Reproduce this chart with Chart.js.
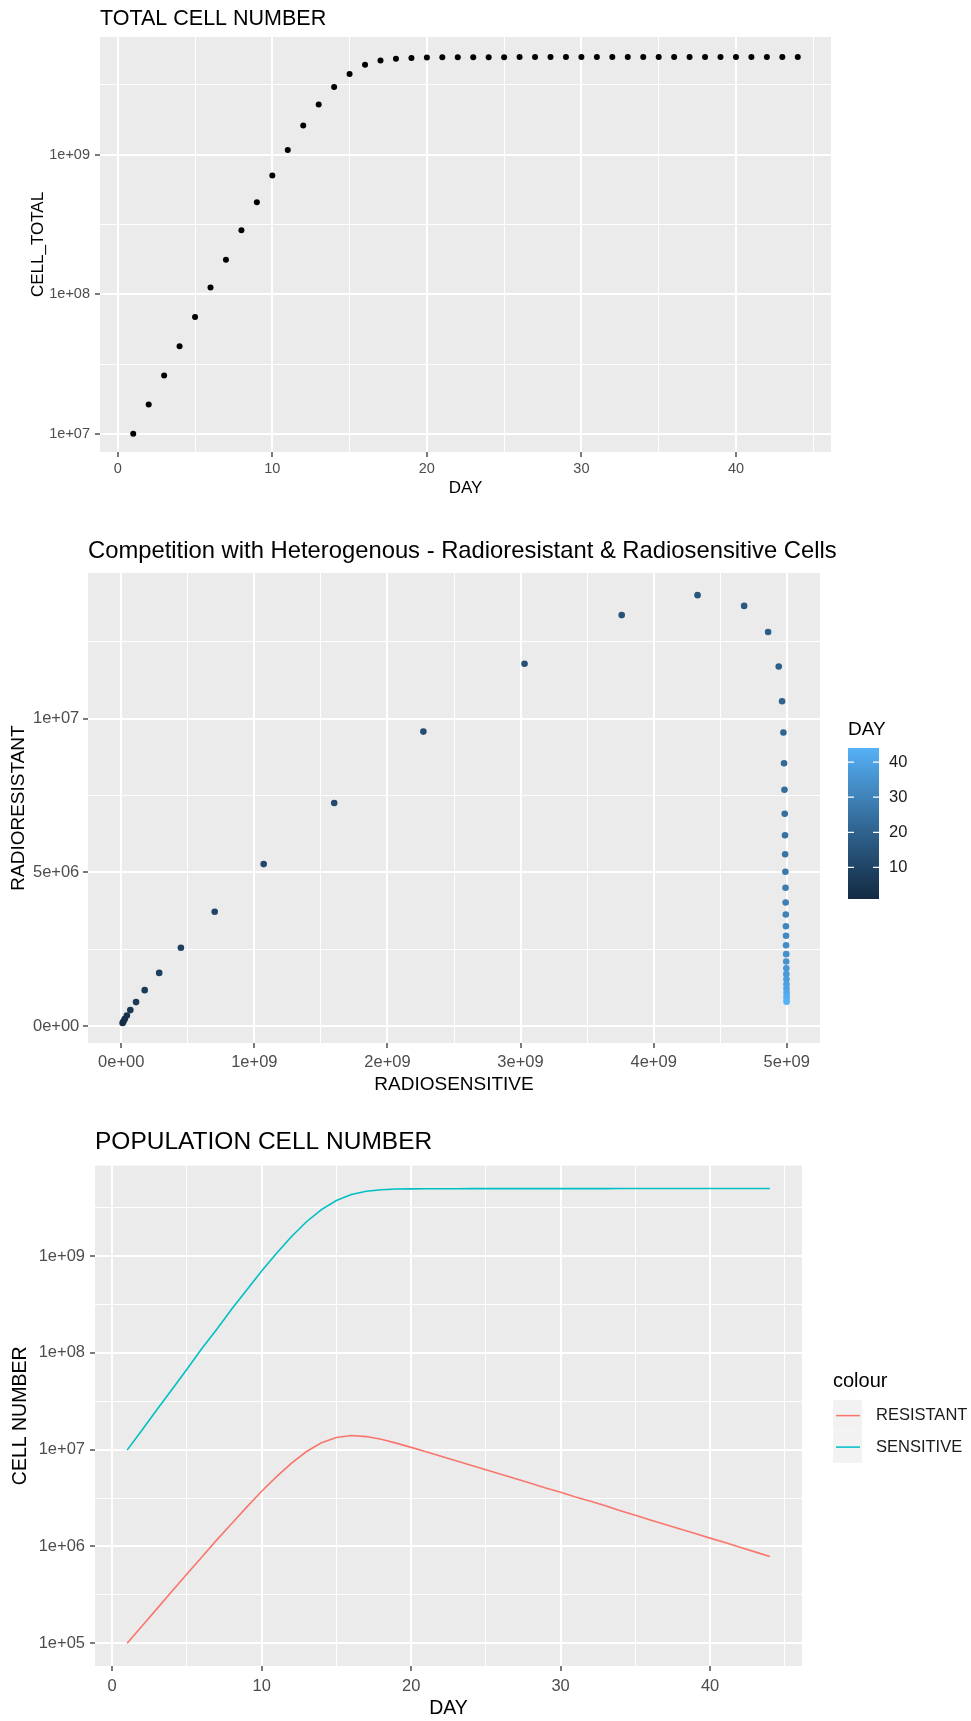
<!DOCTYPE html>
<html>
<head>
<meta charset="utf-8">
<script src="https://cdn.jsdelivr.net/npm/chart.js@4.4.0/dist/chart.umd.min.js"></script>
<style>
  html, body { margin: 0; padding: 0; background: #fff; }
  body { width: 971px; height: 1721px; position: relative; overflow: hidden; }
  canvas { position: absolute; left: 0; }
  #c1 { top: 0; }
  #c2 { top: 500px; }
  #c3 { top: 1110px; }
</style>
</head>
<body>
<canvas id="c1" width="971" height="500"></canvas>
<canvas id="c2" width="971" height="600"></canvas>
<canvas id="c3" width="971" height="611"></canvas>
<script>
// ---- data ----
const DAYS = [1, 2, 3, 4, 5, 6, 7, 8, 9, 10, 11, 12, 13, 14, 15, 16, 17, 18, 19, 20, 21, 22,
  23, 24, 25, 26, 27, 28, 29, 30, 31, 32, 33, 34, 35, 36, 37, 38, 39, 40, 41, 42, 43, 44];

// top panel: CELL_TOTAL per day
const CELL_TOTAL = [1.00e7, 1.62e7, 2.62e7, 4.25e7, 6.88e7, 1.12e8, 1.77e8, 2.88e8, 4.56e8, 7.08e8,
  1.08e9, 1.62e9, 2.29e9, 3.05e9, 3.79e9, 4.40e9, 4.73e9, 4.87e9, 4.93e9, 4.97e9,
  4.98e9, 4.99e9, 4.99e9, 4.99e9, 4.99e9, 5.00e9, 5.00e9, 5.00e9, 5.00e9, 5.00e9,
  5.00e9, 5.00e9, 5.00e9, 5.00e9, 5.00e9, 5.00e9, 5.00e9, 5.00e9, 5.00e9, 5.00e9,
  5.00e9, 5.00e9, 5.00e9, 5.00e9];

// radiosensitive population per day
const SENSITIVE = [0.99e7, 1.60e7, 2.60e7, 4.20e7, 6.80e7, 1.11e8, 1.76e8, 2.85e8, 4.48e8, 7.02e8,
  1.07e9, 1.60e9, 2.27e9, 3.03e9, 3.76e9, 4.33e9, 4.68e9, 4.86e9, 4.94e9, 4.965e9,
  4.975e9, 4.98e9, 4.983e9, 4.985e9, 4.987e9, 4.988e9, 4.99e9, 4.991e9, 4.992e9, 4.993e9,
  4.994e9, 4.995e9, 4.995e9, 4.996e9, 4.996e9, 4.997e9, 4.997e9, 4.998e9, 4.998e9, 4.998e9,
  4.999e9, 4.999e9, 4.999e9, 4.999e9];

// radioresistant population per day
const RESISTANT = [1.0e5, 1.51e5, 2.28e5, 3.44e5, 5.2e5, 7.8e5, 1.17e6, 1.73e6, 2.55e6, 3.72e6,
  5.27e6, 7.26e6, 9.58e6, 11.79e6, 13.37e6, 14.02e6, 13.67e6, 12.82e6, 11.70e6, 10.57e6,
  9.55e6, 8.55e6, 7.69e6, 6.91e6, 6.21e6, 5.59e6, 5.02e6, 4.50e6, 4.02e6, 3.63e6,
  3.25e6, 2.94e6, 2.63e6, 2.34e6, 2.10e6, 1.88e6, 1.69e6, 1.52e6, 1.36e6, 1.22e6,
  1.10e6, 0.98e6, 0.88e6, 0.79e6];

// tick labels
const DAY_TICKS = [0, 10, 20, 30, 40];
const TOTAL_TICKS = [1e7, 1e8, 1e9];
const S_TICKS = [0, 1e9, 2e9, 3e9, 4e9, 5e9];
const R_TICKS = [0, 5e6, 1e7];
const POP_TICKS = [1e5, 1e6, 1e7, 1e8, 1e9];
const DAY_LEGEND_TICKS = [10, 20, 30, 40];

const FONT = "'Liberation Sans', Arial, Helvetica, sans-serif";
Chart.defaults.font.family = FONT;
Chart.defaults.animation = false;
Chart.defaults.plugins.legend.display = false;
Chart.defaults.plugins.tooltip.enabled = false;

// ggplot style "1e+07"
function sci(v) {
  if (Math.abs(v) < 1e-12) return '0e+00';
  const e = Math.floor(Math.log10(Math.abs(v)) + 1e-9);
  const m = Math.round(v / Math.pow(10, e) * 100) / 100;
  return m + 'e' + (e < 0 ? '-' : '+') + String(Math.abs(e)).padStart(2, '0');
}

// major breaks plus ggplot minor breaks halfway between
function breaksWithMinor(majors, min, max, log) {
  const f = log ? Math.log10 : (v => v);
  const inv = log ? (v => Math.pow(10, v)) : (v => v);
  const m = majors.map(f);
  const half = (m[1] - m[0]) / 2;
  const all = [];
  m.forEach(v => { all.push(v - half, v, v + half); });
  const lo = f(min), hi = f(max);
  return [...new Set(all.map(v => +v.toFixed(9)))]
    .filter(v => v >= lo && v <= hi).sort((a, b) => a - b).map(inv);
}

function ggScale(o) {
  const breaks = breaksWithMinor(o.majors, o.min, o.max, o.type === 'logarithmic');
  const isMajor = v => o.majors.some(m => Math.abs(m - v) <= Math.abs(m) * 1e-6 + 1e-6);
  return {
    type: o.type, min: o.min, max: o.max,
    afterBuildTicks: s => { s.ticks = breaks.map(v => ({ value: v })); },
    afterFit: s => { if (o.horizontal) s.height = o.fit; else s.width = o.fit; },
    border: { display: false },
    grid: {
      color: '#FFFFFF',
      lineWidth: c => (c.tick && isMajor(c.tick.value)) ? 2 : 1,
      tickColor: c => (c.tick && isMajor(c.tick.value)) ? '#333333' : 'rgba(0,0,0,0)',
      tickWidth: 1.3, tickLength: 5, drawTicks: true
    },
    ticks: {
      autoSkip: false, maxRotation: 0, minRotation: 0,
      padding: o.tickPad, color: '#4D4D4D', font: { size: o.tickSize },
      callback: v => isMajor(v) ? (o.label ? o.label(v) : sci(v)) : ''
    },
    title: { display: true, text: o.title, color: '#000', font: { size: o.titleSize }, padding: o.titlePad }
  };
}

const panelBg = {
  id: 'panelBg',
  beforeDraw(chart) {
    const { ctx, chartArea: a } = chart;
    ctx.save();
    ctx.fillStyle = '#EBEBEB';
    ctx.fillRect(a.left, a.top, a.right - a.left, a.bottom - a.top);
    ctx.restore();
  }
};

// let the panel-aligned title run past the panel's right edge (no squeezing)
const wideTitle = {
  id: 'wideTitle',
  afterLayout(chart) {
    if (chart.titleBlock) chart.titleBlock.right = chart.width;
  }
};

// colour scale like ggplot: #132B43 -> #56B1F7 in Lab
const WHITE = [0.95047, 1, 1.08883];
const toLin = c => { c /= 255; return c <= 0.04045 ? c / 12.92 : Math.pow((c + 0.055) / 1.055, 2.4); };
const toSrgb = c => { const v = c <= 0.0031308 ? 12.92 * c : 1.055 * Math.pow(c, 1 / 2.4) - 0.055; return Math.round(Math.max(0, Math.min(1, v)) * 255); };
function hexLab(h) {
  const [r, g, b] = [1, 3, 5].map(i => toLin(parseInt(h.substr(i, 2), 16)));
  const X = (0.4124 * r + 0.3576 * g + 0.1805 * b) / WHITE[0];
  const Y = (0.2126 * r + 0.7152 * g + 0.0722 * b) / WHITE[1];
  const Z = (0.0193 * r + 0.1192 * g + 0.9505 * b) / WHITE[2];
  const f = t => t > 0.008856 ? Math.cbrt(t) : 7.787 * t + 16 / 116;
  return [116 * f(Y) - 16, 500 * (f(X) - f(Y)), 200 * (f(Y) - f(Z))];
}
function labRgb(L, A, B) {
  const fy = (L + 16) / 116, fx = fy + A / 500, fz = fy - B / 200;
  const inv = t => t * t * t > 0.008856 ? t * t * t : (t - 16 / 116) / 7.787;
  const X = inv(fx) * WHITE[0], Y = inv(fy) * WHITE[1], Z = inv(fz) * WHITE[2];
  const r = 3.2406 * X - 1.5372 * Y - 0.4986 * Z;
  const g = -0.9689 * X + 1.8758 * Y + 0.0415 * Z;
  const b = 0.0557 * X - 0.2040 * Y + 1.0570 * Z;
  return 'rgb(' + [r, g, b].map(toSrgb).join(',') + ')';
}
const LOW = hexLab('#132B43'), HIGH = hexLab('#56B1F7');
const dMin = Math.min(...DAYS), dMax = Math.max(...DAYS);
function dayColor(d) {
  const t = (d - dMin) / (dMax - dMin);
  return labRgb(LOW[0] + (HIGH[0] - LOW[0]) * t, LOW[1] + (HIGH[1] - LOW[1]) * t, LOW[2] + (HIGH[2] - LOW[2]) * t);
}

// ---------- chart 1: TOTAL CELL NUMBER ----------
new Chart(document.getElementById('c1'), {
  type: 'scatter',
  data: {
    datasets: [{
      label: 'CELL_TOTAL',
      data: DAYS.map((d, i) => ({ x: d, y: CELL_TOTAL[i] })),
      backgroundColor: '#000', borderWidth: 0, pointRadius: 3
    }]
  },
  options: {
    responsive: false,
    layout: { padding: { left: 0, right: 140, top: 0, bottom: 0 } },
    plugins: {
      title: {
        display: true, text: 'TOTAL CELL NUMBER', align: 'start', fullSize: false,
        color: '#000', font: { size: 21.5, weight: 'normal' }, padding: { top: 6.1, bottom: 5.1 }
      }
    },
    scales: {
      x: ggScale({ type: 'linear', min: -1.15, max: 46.15, majors: DAY_TICKS, label: v => String(v),
        horizontal: true, fit: 48, tickSize: 14.5, tickPad: 3.3,
        title: 'DAY', titleSize: 17, titlePad: { top: 0, bottom: 1.8 } }),
      y: ggScale({ type: 'logarithmic', min: Math.pow(10, 6.87), max: Math.pow(10, 9.843), majors: TOTAL_TICKS,
        horizontal: false, fit: 100, tickSize: 14.5, tickPad: 5,
        title: 'CELL_TOTAL', titleSize: 17, titlePad: { top: 27.8, bottom: 0 } })
    }
  },
  plugins: [panelBg, wideTitle]
});

// ---------- chart 2: competition scatter ----------
const colorbarLegend = {
  id: 'colorbarLegend',
  afterDraw(chart) {
    const { ctx, chartArea: a } = chart;
    const x0 = a.right + 28, w = 31, h = 151;
    const mid = (a.top + a.bottom) / 2;
    const top = mid - 60, bot = top + h;
    ctx.save();
    ctx.fillStyle = '#000';
    ctx.textBaseline = 'middle';
    ctx.textAlign = 'left';
    ctx.font = '19px ' + FONT;
    ctx.fillText('DAY', x0, top - 18);
    const grad = ctx.createLinearGradient(0, bot, 0, top);
    for (let k = 0; k <= 20; k++) grad.addColorStop(k / 20, dayColor(dMin + (dMax - dMin) * k / 20));
    ctx.fillStyle = grad;
    ctx.fillRect(x0, top, w, h);
    ctx.strokeStyle = '#FFFFFF';
    ctx.lineWidth = 1.2;
    ctx.font = '16.5px ' + FONT;
    DAY_LEGEND_TICKS.forEach(v => {
      const y = bot - (v - dMin) / (dMax - dMin) * h;
      ctx.beginPath();
      ctx.moveTo(x0, y); ctx.lineTo(x0 + 6, y);
      ctx.moveTo(x0 + w - 6, y); ctx.lineTo(x0 + w, y);
      ctx.stroke();
      ctx.fillStyle = '#1A1A1A';
      ctx.fillText(String(v), x0 + w + 10, y);
    });
    ctx.restore();
  }
};

new Chart(document.getElementById('c2'), {
  type: 'scatter',
  data: {
    datasets: [{
      label: 'DAY',
      data: DAYS.map((d, i) => ({ x: SENSITIVE[i], y: RESISTANT[i] })),
      backgroundColor: DAYS.map(dayColor),
      borderWidth: 0, pointRadius: 3.3
    }]
  },
  options: {
    responsive: false,
    layout: { padding: { left: 0, right: 151, top: 0, bottom: 0 } },
    plugins: {
      title: {
        display: true, text: 'Competition with Heterogenous - Radioresistant & Radiosensitive Cells',
        align: 'start', fullSize: false, color: '#000', font: { size: 23.8, weight: 'normal' },
        padding: { top: 37.2, bottom: 7.24 }
      }
    },
    scales: {
      x: ggScale({ type: 'linear', min: -0.25e9, max: 5.25e9, majors: S_TICKS,
        horizontal: true, fit: 57, tickSize: 16.5, tickPad: 4.1,
        title: 'RADIOSENSITIVE', titleSize: 19, titlePad: { top: 0, bottom: 3.6 } }),
      y: ggScale({ type: 'linear', min: -0.55e6, max: 14.74e6, majors: R_TICKS,
        horizontal: false, fit: 88, tickSize: 16.5, tickPad: 3.7,
        title: 'RADIORESISTANT', titleSize: 19, titlePad: { top: 7.6, bottom: 0 } })
    }
  },
  plugins: [panelBg, wideTitle, colorbarLegend]
});

// ---------- chart 3: POPULATION CELL NUMBER ----------
const keyLegend = {
  id: 'keyLegend',
  afterDraw(chart) {
    const { ctx, chartArea: a } = chart;
    const x0 = a.right + 31, mid = (a.top + a.bottom) / 2;
    const kw = 29, kh = 31.5;
    ctx.save();
    ctx.textBaseline = 'middle';
    ctx.textAlign = 'left';
    ctx.fillStyle = '#000';
    ctx.font = '20px ' + FONT;
    ctx.fillText('colour', x0, mid - 34.5);
    chart.data.datasets.forEach((ds, i) => {
      const top = mid - 16 + i * kh;
      ctx.fillStyle = '#F2F2F2';
      ctx.fillRect(x0, top, kw, kh);
      ctx.strokeStyle = ds.borderColor;
      ctx.lineWidth = 1.5;
      ctx.beginPath();
      ctx.moveTo(x0 + 3, top + kh / 2); ctx.lineTo(x0 + kw - 2, top + kh / 2);
      ctx.stroke();
      ctx.fillStyle = '#1A1A1A';
      ctx.font = '16.5px ' + FONT;
      ctx.fillText(ds.label, x0 + 43, top + kh / 2);
    });
    ctx.restore();
  }
};

new Chart(document.getElementById('c3'), {
  type: 'line',
  data: {
    datasets: [
      { label: 'RESISTANT', data: DAYS.map((d, i) => ({ x: d, y: RESISTANT[i] })),
        borderColor: '#F8766D', borderWidth: 1.6, pointRadius: 0, fill: false, tension: 0 },
      { label: 'SENSITIVE', data: DAYS.map((d, i) => ({ x: d, y: SENSITIVE[i] })),
        borderColor: '#00BFC4', borderWidth: 1.6, pointRadius: 0, fill: false, tension: 0 }
    ]
  },
  options: {
    responsive: false,
    layout: { padding: { left: 0, right: 169, top: 0, bottom: 0 } },
    plugins: {
      title: {
        display: true, text: 'POPULATION CELL NUMBER', align: 'start', fullSize: false,
        color: '#000', font: { size: 24.5, weight: 'normal' }, padding: { top: 17.8, bottom: 8.5 }
      }
    },
    scales: {
      x: ggScale({ type: 'linear', min: -1.15, max: 46.15, majors: DAY_TICKS, label: v => String(v),
        horizontal: true, fit: 55, tickSize: 16.5, tickPad: 5.1,
        title: 'DAY', titleSize: 19.5, titlePad: { top: 0, bottom: 0.8 } }),
      y: ggScale({ type: 'logarithmic', min: Math.pow(10, 4.765), max: Math.pow(10, 9.935), majors: POP_TICKS,
        horizontal: false, fit: 95, tickSize: 16.5, tickPad: 5,
        title: 'CELL NUMBER', titleSize: 19.5, titlePad: { top: 9.3, bottom: 0 } })
    }
  },
  plugins: [panelBg, wideTitle, keyLegend]
});
</script>
</body>
</html>
